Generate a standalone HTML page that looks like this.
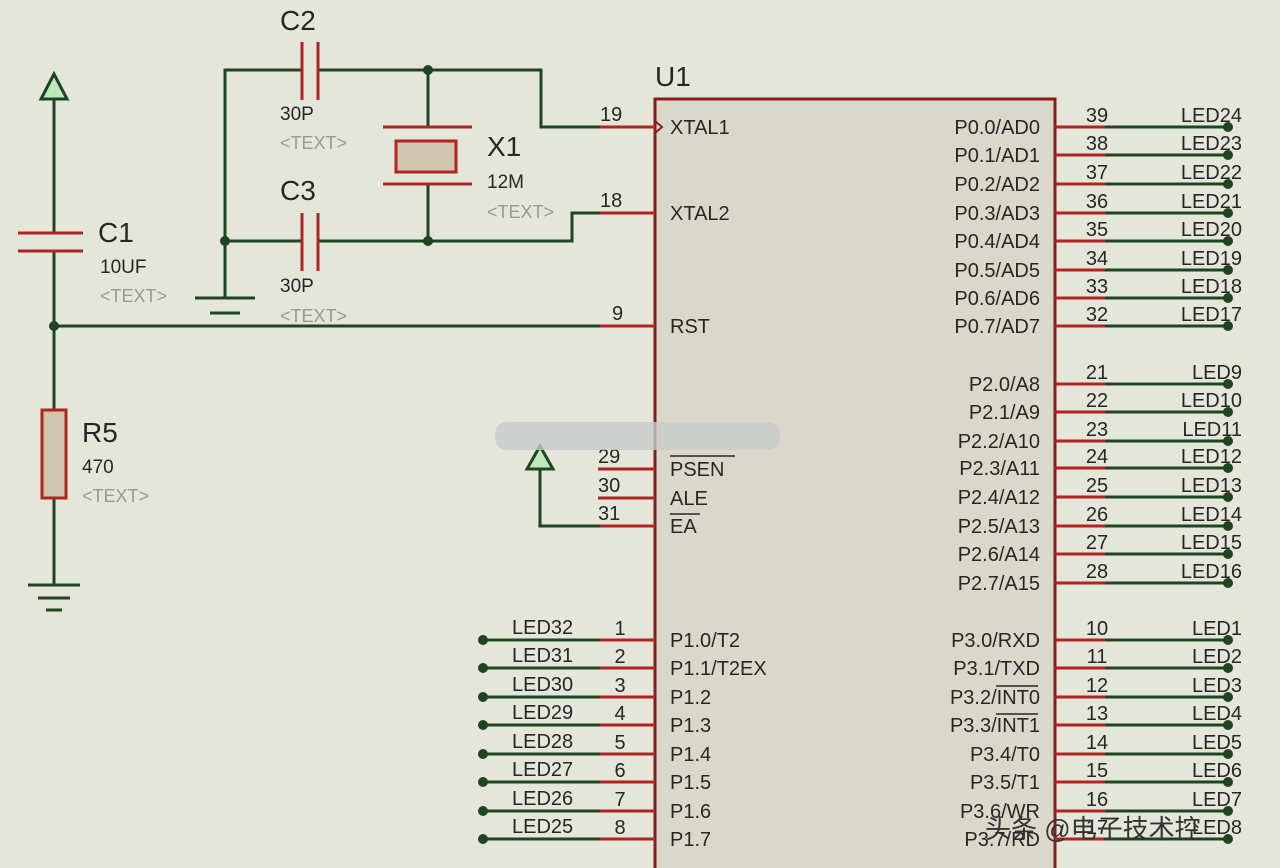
<!DOCTYPE html>
<html><head><meta charset="utf-8"><style>
html,body{margin:0;padding:0;background:#e4e6da;}
svg{display:block}
text{font-family:"Liberation Sans","Noto Sans CJK SC",sans-serif;fill:#262626}
</style></head><body>
<svg width="1280" height="868" viewBox="0 0 1280 868" xmlns="http://www.w3.org/2000/svg">
<rect width="1280" height="868" fill="#e4e6da"/>
<!-- chip -->
<rect x="655" y="99" width="400" height="780" fill="#dad9c9" stroke="#8a1c1c" stroke-width="3"/>
<text x="655" y="86" font-size="28">U1</text>
<g stroke="#1f4420" stroke-width="3" fill="none">
<!-- C2 top wire -->
<polyline points="225,298 225,70 302,70"/>
<polyline points="318,70 541,70 541,127 655,127"/>
<line x1="428" y1="70" x2="428" y2="127"/>
<line x1="428" y1="184" x2="428" y2="241"/>
<polyline points="225,241 302,241"/>
<polyline points="318,241 572,241 572,213 655,213"/>
<line x1="195" y1="298" x2="255" y2="298"/>
<line x1="210" y1="313" x2="240" y2="313"/>
<!-- C1 -->
<line x1="54" y1="96" x2="54" y2="233"/>
<line x1="54" y1="251" x2="54" y2="410"/>
<line x1="54" y1="498" x2="54" y2="585"/>
<line x1="54" y1="326" x2="655" y2="326"/>
<line x1="28" y1="585" x2="80" y2="585"/>
<line x1="38" y1="598" x2="70" y2="598"/>
<line x1="46" y1="610" x2="62" y2="610"/>
<!-- EA -->
<polyline points="540,470 540,526 655,526"/>
</g>
<g stroke="#b02424" stroke-width="3" fill="none">
<line x1="302" y1="42" x2="302" y2="100"/><line x1="318" y1="42" x2="318" y2="100"/>
<line x1="302" y1="213" x2="302" y2="271"/><line x1="318" y1="213" x2="318" y2="271"/>
<line x1="383" y1="127" x2="472" y2="127"/><line x1="383" y1="184" x2="472" y2="184"/>
<rect x="396" y="141" width="60" height="31" fill="#cfc6b0"/>
<line x1="18" y1="233" x2="83" y2="233"/><line x1="18" y1="251" x2="83" y2="251"/>
<rect x="42" y="410" width="24" height="88" fill="#cfc6b0"/>
<line x1="600" y1="127" x2="655" y2="127"/>
<line x1="600" y1="213" x2="655" y2="213"/>
<line x1="600" y1="326" x2="655" y2="326"/>
<line x1="598" y1="469" x2="655" y2="469"/>
<line x1="598" y1="498" x2="655" y2="498"/>
<line x1="600" y1="526" x2="655" y2="526"/>
</g>
<polygon points="54,74 41,99 67,99" fill="#bfe8bf" stroke="#1f4420" stroke-width="3"/>
<polygon points="540,446 527,469 553,469" fill="#bfe8bf" stroke="#1f4420" stroke-width="3"/>
<g fill="#1f4420">
<circle cx="428" cy="70" r="5"/><circle cx="428" cy="241" r="5"/><circle cx="225" cy="241" r="5"/><circle cx="54" cy="326" r="5"/>
</g>
<polyline points="655,121 662,127 655,133" fill="none" stroke="#8a1c1c" stroke-width="2"/>
<!-- labels left -->
<g font-size="28"><text x="280" y="30">C2</text><text x="280" y="200">C3</text><text x="487" y="156">X1</text><text x="98" y="242">C1</text><text x="82" y="442">R5</text></g>
<g font-size="19"><text x="280" y="120">30P</text><text x="280" y="292">30P</text><text x="487" y="188">12M</text><text x="100" y="273">10UF</text><text x="82" y="473">470</text></g>
<g font-size="18" style="fill:#9a9a92"><text x="280" y="149" style="fill:#9a9a92">&lt;TEXT&gt;</text><text x="280" y="322" style="fill:#9a9a92">&lt;TEXT&gt;</text><text x="487" y="218" style="fill:#9a9a92">&lt;TEXT&gt;</text><text x="100" y="302" style="fill:#9a9a92">&lt;TEXT&gt;</text><text x="82" y="502" style="fill:#9a9a92">&lt;TEXT&gt;</text></g>
<g font-size="20">
<text x="600" y="121">19</text><text x="600" y="207">18</text><text x="612" y="320">9</text>
<text x="598" y="463">29</text><text x="598" y="492">30</text><text x="598" y="520">31</text>
<text x="670" y="134">XTAL1</text><text x="670" y="220">XTAL2</text><text x="670" y="333">RST</text>
<text x="670" y="476">PSEN</text><text x="670" y="505">ALE</text><text x="670" y="533">EA</text>
</g>
<line x1="670" y1="456" x2="735" y2="456" stroke="#262626" stroke-width="1.5"/>
<line x1="670" y1="514" x2="700" y2="514" stroke="#262626" stroke-width="1.5"/>
<!-- blurred watermark -->
<rect x="495" y="422" width="285" height="28" rx="12" fill="#c8cacc" opacity="0.8"/>
<g id="pins"></g>
<text x="985" y="838" font-size="26" style="fill:#333">头条 @电子技术控</text>
</svg>
<script>
var g=document.getElementById('pins'),ns='http://www.w3.org/2000/svg',h='';
function R(ys,names,nums,leds){ys.forEach(function(y,i){
h+='<line x1="1055" y1="'+y+'" x2="1105" y2="'+y+'" stroke="#b02424" stroke-width="3"/>';
h+='<line x1="1105" y1="'+y+'" x2="1228" y2="'+y+'" stroke="#1f4420" stroke-width="3"/>';
h+='<circle cx="1228" cy="'+y+'" r="5" fill="#1f4420"/>';
h+='<text x="1040" y="'+(y+7)+'" font-size="20" text-anchor="end">'+names[i]+'</text>';
h+='<text x="1097" y="'+(y-5)+'" font-size="20" text-anchor="middle">'+nums[i]+'</text>';
h+='<text x="1242" y="'+(y-5)+'" font-size="20" text-anchor="end">'+leds[i]+'</text>';});}
var p0=[127,155,184,213,241,270,298,326],p2=[384,412,441,468,497,526,554,583],p3=[640,668,697,725,754,782,811,839];
R(p0,['P0.0/AD0','P0.1/AD1','P0.2/AD2','P0.3/AD3','P0.4/AD4','P0.5/AD5','P0.6/AD6','P0.7/AD7'],[39,38,37,36,35,34,33,32],['LED24','LED23','LED22','LED21','LED20','LED19','LED18','LED17']);
R(p2,['P2.0/A8','P2.1/A9','P2.2/A10','P2.3/A11','P2.4/A12','P2.5/A13','P2.6/A14','P2.7/A15'],[21,22,23,24,25,26,27,28],['LED9','LED10','LED11','LED12','LED13','LED14','LED15','LED16']);
R(p3,['P3.0/RXD','P3.1/TXD','P3.2/INT0','P3.3/INT1','P3.4/T0','P3.5/T1','P3.6/WR','P3.7/RD'],[10,11,12,13,14,15,16,17],['LED1','LED2','LED3','LED4','LED5','LED6','LED7','LED8']);
var p1=['P1.0/T2','P1.1/T2EX','P1.2','P1.3','P1.4','P1.5','P1.6','P1.7'];
p3.forEach(function(y,i){
h+='<line x1="483" y1="'+y+'" x2="600" y2="'+y+'" stroke="#1f4420" stroke-width="3"/>';
h+='<line x1="600" y1="'+y+'" x2="655" y2="'+y+'" stroke="#b02424" stroke-width="3"/>';
h+='<circle cx="483" cy="'+y+'" r="5" fill="#1f4420"/>';
h+='<text x="512" y="'+(y-6)+'" font-size="20">LED'+(32-i)+'</text>';
h+='<text x="620" y="'+(y-5)+'" font-size="20" text-anchor="middle">'+(i+1)+'</text>';
h+='<text x="670" y="'+(y+7)+'" font-size="20">'+p1[i]+'</text>';});
h+='<line x1="996" y1="686" x2="1038" y2="686" stroke="#262626" stroke-width="1.5"/><line x1="996" y1="714" x2="1038" y2="714" stroke="#262626" stroke-width="1.5"/>';
g.innerHTML=h;
</script>
</body></html>
